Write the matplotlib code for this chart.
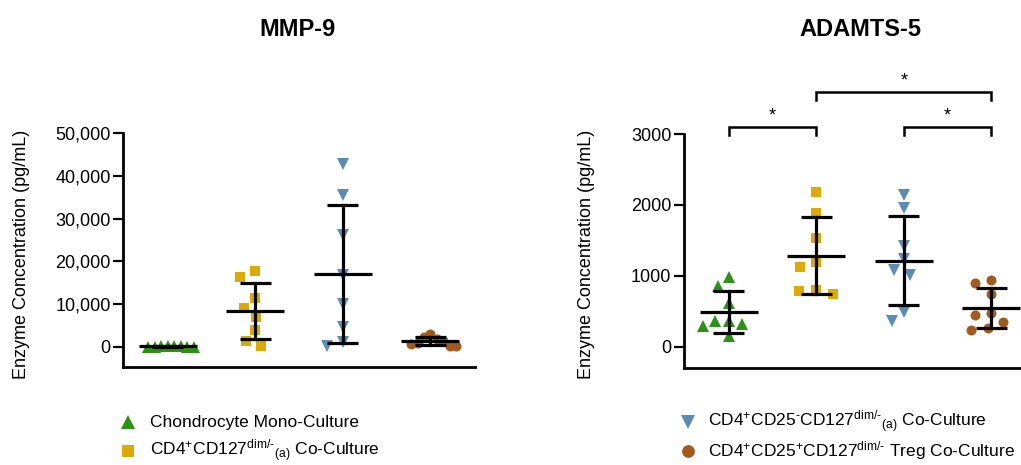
import numpy as np
import matplotlib
matplotlib.use("Agg")
import matplotlib.pyplot as plt
from matplotlib.lines import Line2D

# ---------------- data ----------------
group_labels = [
    "Chondrocyte Mono-Culture",
    r"CD4$^{+}$CD127$^{\text{dim/-}}$$_{\text{(a)}}$ Co-Culture",
    r"CD4$^{+}$CD25$^{\text{-}}$CD127$^{\text{dim/-}}$$_{\text{(a)}}$ Co-Culture",
    r"CD4$^{+}$CD25$^{+}$CD127$^{\text{dim/-}}$ Treg Co-Culture",
]
panel_titles = ["MMP-9", "ADAMTS-5"]
y_label = "Enzyme Concentration (pg/mL)"

mmp9_chondro = [150, 130, 110, 100, 90, 70, 60, 40]
mmp9_cd127 = [17800, 16400, 11500, 9200, 7000, 3900, 1400, 200]
mmp9_cd25neg = [42700, 35400, 26100, 16700, 10100, 4700, 1200, 100]
mmp9_treg = [2900, 2300, 1800, 1300, 1000, 600, 300, 200]

adamts5_chondro = [980, 860, 615, 357, 324, 357, 286, 146]
adamts5_cd127 = [2188, 1892, 1531, 1188, 1131, 793, 746, 779]
adamts5_cd25neg = [2141, 1953, 1423, 1085, 1235, 1014, 357, 484]
adamts5_treg = [944, 897, 746, 343, 441, 474, 239, 263]

mmp9_ticks = [0, 10000, 20000, 30000, 40000, 50000]
adamts5_ticks = [0, 1000, 2000, 3000]

# significance comparisons for ADAMTS-5: (group a, group b, label, level)
adamts5_sig = [(0, 1, "*", 0), (2, 3, "*", 0), (1, 3, "*", 1)]

# ---------------- style ----------------
colors = ["#2a9412", "#dcaa00", "#5b8cb6", "#a45a1c"]
markers = ["^", "s", "v", "o"]
msizes = [8.0, 7.0, 8.0, 7.2]

plt.rcParams["font.family"] = ["Liberation Sans", "DejaVu Sans"]
plt.rcParams["mathtext.fontset"] = "custom"
plt.rcParams["mathtext.rm"] = "Liberation Sans"
plt.rcParams["mathtext.it"] = "Liberation Sans"
plt.rcParams["mathtext.default"] = "regular"

W, H = 1021, 465
fig = plt.figure(figsize=(W / 100, H / 100), dpi=100)


def fx(x):
    return x / W


def fy(y):
    return 1 - y / H


ax_w = 352
ax_top, ax_bot = 133, 367
ax1 = fig.add_axes([fx(123), fy(ax_bot), ax_w / W, (ax_bot - ax_top) / H])
ax2 = fig.add_axes([fx(684), fy(ax_bot + 1), ax_w / W, (ax_bot - ax_top) / H])


def swarm_offsets(ax, values, dxd=17.0, dyd=13.0, max_half=26.0):
    """GraphPad-like scatter: anisotropic beeswarm, compressed to a max width."""
    disp = ax.transData.transform([(0, v) for v in values])
    ypix = disp[:, 1]
    order = np.argsort(-np.asarray(values, dtype=float), kind="stable")
    placed = []
    offs = np.zeros(len(values))
    for i in order:
        y = ypix[i]
        nb = [(x, yy) for (x, yy) in placed if abs(yy - y) < dyd]
        cands = [0.0]
        for x, yy in nb:
            dx = dxd * np.sqrt(max(1 - ((yy - y) / dyd) ** 2, 0))
            cands += [x - dx, x + dx]
        cands = sorted(cands, key=lambda c: (round(abs(c), 6), c))
        chosen = cands[-1]
        for c in cands:
            if all(((c - x) / dxd) ** 2 + ((y - yy) / dyd) ** 2 >= 1 - 1e-6 for x, yy in nb):
                chosen = c
                break
        placed.append((chosen, y))
        offs[i] = chosen
    m = np.max(np.abs(offs))
    if m > max_half:
        offs = offs * max_half / m
    xs = ax.transData.transform([(1, 0)])[0, 0] - ax.transData.transform([(0, 0)])[0, 0]
    return offs / xs


def draw_panel(ax, data, ylim, ticks, fmt):
    ax.set_xlim(-0.51, 3.51)
    ax.set_ylim(*ylim)
    for i, vals in enumerate(data):
        offs = swarm_offsets(ax, vals)
        ax.plot(i + offs, vals, linestyle="none", marker=markers[i],
                markersize=msizes[i], color=colors[i], markeredgewidth=0,
                zorder=2, clip_on=False)
        m = np.mean(vals)
        s = np.std(vals, ddof=1)
        lw = 2.3
        ax.plot([i - 0.33, i + 0.33], [m, m], color="black", lw=lw, zorder=3,
                solid_capstyle="butt")
        ax.plot([i, i], [m - s, m + s], color="black", lw=lw, zorder=3)
        for yv in (m - s, m + s):
            ax.plot([i - 0.175, i + 0.175], [yv, yv], color="black", lw=lw,
                    zorder=3, solid_capstyle="butt")
    ax.set_yticks(ticks)
    ax.set_yticklabels([fmt(t) for t in ticks])
    ax.set_xticks([])
    for sp in ("top", "right"):
        ax.spines[sp].set_visible(False)
    for sp in ("left", "bottom"):
        ax.spines[sp].set_linewidth(2.0)
    ax.tick_params(axis="y", direction="out", length=7, width=1.6,
                   labelsize=13, pad=2, colors="black")


draw_panel(ax1, [mmp9_chondro, mmp9_cd127, mmp9_cd25neg, mmp9_treg],
           (-4700, 50000), mmp9_ticks, lambda t: f"{t:,}")
draw_panel(ax2, [adamts5_chondro, adamts5_cd127, adamts5_cd25neg, adamts5_treg],
           (-300, 3000), adamts5_ticks, lambda t: f"{t}")

# significance brackets
level_y = [3100, 3590]
leg_drop = 110
for a, b, lab, lvl in adamts5_sig:
    yb = level_y[lvl]
    ax2.plot([a, a, b, b], [yb - leg_drop, yb, yb, yb - leg_drop], color="black",
             lw=1.8, clip_on=False, solid_joinstyle="miter")
    ax2.text((a + b) / 2, yb + 40, lab, ha="center", va="bottom", fontsize=13,
             clip_on=False)

# titles
fig.text(fx(297), fy(30), panel_titles[0], ha="center", va="center",
         fontsize=17, fontweight="bold")
fig.text(fx(860), fy(30), panel_titles[1], ha="center", va="center",
         fontsize=17, fontweight="bold")

# y labels
fig.text(fx(22), fy(254), y_label, rotation=90, ha="center", va="center", fontsize=13)
fig.text(fx(586), fy(254), y_label, rotation=90, ha="center", va="center", fontsize=13)

# legend
leg_pos = [(128, 150, 422), (128, 150, 451), (688, 708, 422), (688, 708, 451)]
for i, (mx, tx, ty) in enumerate(leg_pos):
    fig.add_artist(Line2D([fx(mx)], [fy(ty)], transform=fig.transFigure,
                          marker=markers[i], markersize=msizes[i] + 2,
                          color=colors[i], markeredgewidth=0, linestyle="none"))
    fig.text(fx(tx), fy(ty), group_labels[i], ha="left", va="center", fontsize=12.5)

fig.savefig("out.png", dpi=100)
